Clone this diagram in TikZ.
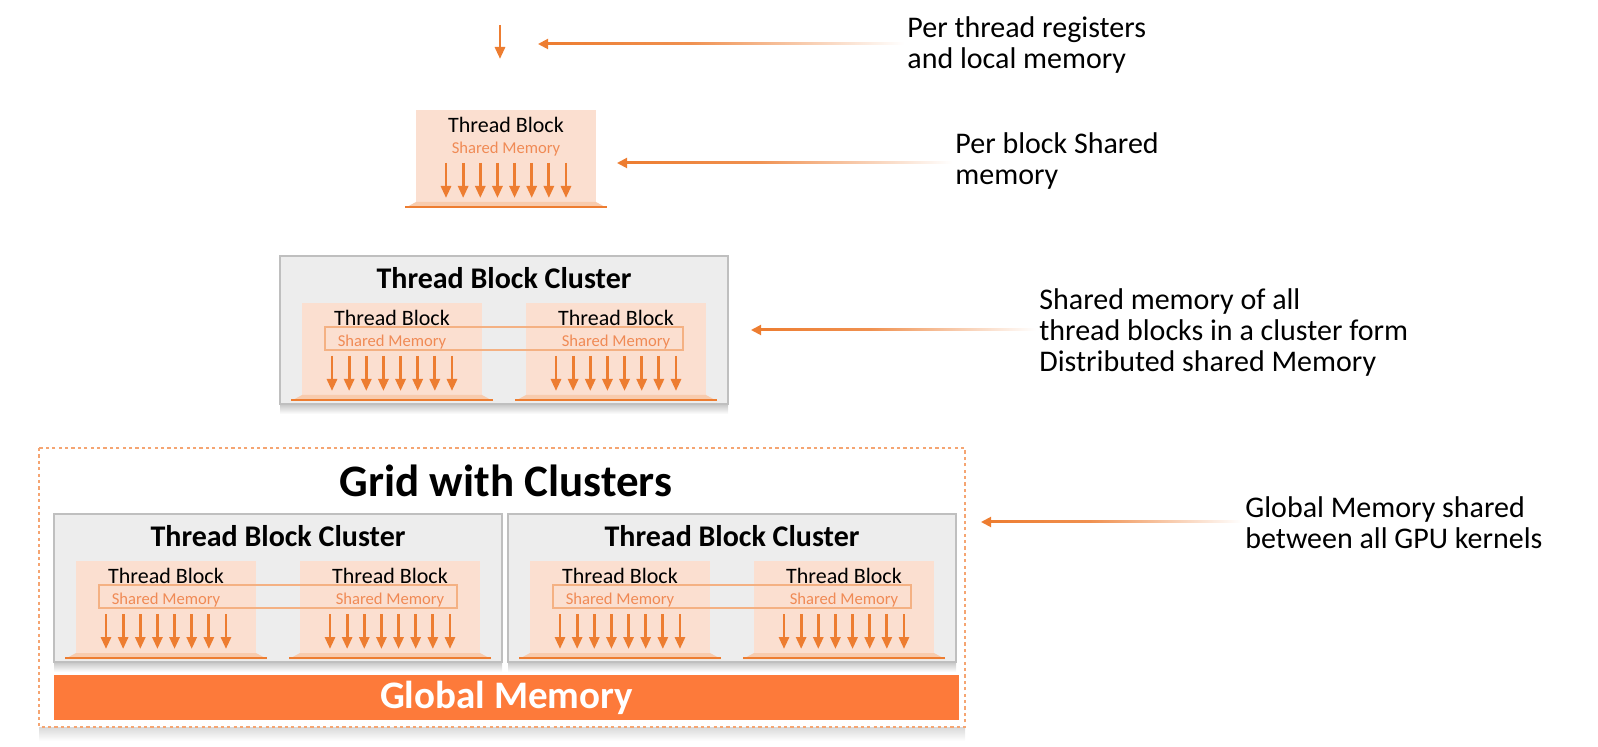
\documentclass[tikz,border=0pt]{standalone}
\usepackage{fontspec}
\setmainfont{Carlito}
\usepackage{tikz}
\usetikzlibrary{arrows.meta,calc}

\definecolor{aor}{HTML}{ED7D31}
\definecolor{smor}{HTML}{F08A55}
\definecolor{blockfill}{HTML}{FBDFD0}
\definecolor{trayfill}{HTML}{F8CBAD}
\definecolor{bandor}{HTML}{F4B183}
\definecolor{dotor}{HTML}{F5A572}
\definecolor{clfill}{HTML}{EDEDED}
\definecolor{clline}{HTML}{BFBFBF}
\definecolor{gbarfill}{HTML}{FD7A3A}

\pgfdeclarehorizontalshading{fadeor}{100bp}{color(0bp)=(aor); color(25bp)=(aor); color(45bp)=(aor!85); color(75bp)=(white); color(100bp)=(white)}

\tikzset{
  thr/.style={draw=aor, line width=1.4pt, -{Triangle[width=5pt,length=6pt]}},
  blk/.style={fill=blockfill},
  tray/.style={fill=trayfill},
  trayline/.style={draw=aor, line width=1.3pt},
  tbtext/.style={font=\fontsize{11pt}{12pt}\selectfont, inner sep=0pt},
  smtext/.style={text=smor, font=\fontsize{8.3pt}{9pt}\selectfont, inner sep=0pt},
  clbox/.style={fill=clfill, draw=clline, line width=0.6pt},
  cltitle/.style={font=\bfseries\fontsize{15pt}{16pt}\selectfont, inner sep=0pt},
  smband/.style={draw=bandor, line width=0.7pt},
  gridbox/.style={draw=dotor, line width=0.8pt, dash pattern=on 1.6pt off 1.6pt},
  gtitle/.style={font=\bfseries\fontsize{22.5pt}{24pt}\selectfont, inner sep=0pt},
  gmtext/.style={text=white, font=\bfseries\fontsize{19.5pt}{21pt}\selectfont, inner sep=0pt},
  lbl/.style={anchor=west, align=left, font=\fontsize{15pt}{15.5pt}\selectfont, inner sep=1.5pt},
  ptrhead/.style={draw=aor, line width=1pt, -{Triangle[width=5pt,length=5pt]}},
}

% one thread block: name, left x, top y
\newcommand{\tblock}[3]{%
  \fill[blk] (#2,#3) rectangle ++(180,92);
  \fill[tray] (#2,#3+92) -- ++(180,0) -- ++(11,6) -- ++(-202,0) -- cycle;
  \draw[trayline] (#2-11,#3+97) -- ++(202,0);
  \node[tbtext] (#1t) at (#2+90,#3+15) {Thread Block};
  \node[smtext] (#1s) at (#2+90,#3+39) {Shared Memory};
  \foreach \k in {0,...,7}
    \draw[thr] (#2+30+\k*17.14,#3+53) -- ++(0,35);
}

% cluster of two blocks: name, left x, top y
\newcommand{\tbcluster}[3]{%
  \shade[top color=gray!45, bottom color=white] (#2,#3+148) rectangle ++(448,10);
  \draw[clbox] (#2,#3) rectangle ++(448,148);
  \node[cltitle] (#1) at (#2+224,#3+22) {Thread Block Cluster};
  \tblock{#1a}{#2+22}{#3+47}
  \tblock{#1b}{#2+246}{#3+47}
  \draw[smband] (#2+45,#3+71) rectangle (#2+403,#3+94);
}

\begin{document}
\begin{tikzpicture}[x=0.5pt,y=-0.5pt]
  \useasboundingbox (0,0) rectangle (1598,747);
  % thread
  \coordinate (R) at (500,25);
  \draw[thr] (R) -- ++(0,34);
  % block
  \tblock{S}{416}{110}
  % cluster
  \tbcluster{C}{280}{256}
  % grid
  \shade[top color=gray!30, bottom color=white] (39,727) rectangle (965,741);
  \draw[gridbox] (39,448) rectangle (965,727);
  \node[gtitle] (G) at (506,481) {Grid with Clusters};
  \tbcluster{L}{54}{514}
  \tbcluster{M}{508}{514}
  \fill[gbarfill] (54,675) rectangle (959,720);
  \node[gmtext] (GM) at (506.5,697.5) {Global Memory};
  % labels
  \node[lbl] (P1) at (904,45) {Per thread registers\\and local memory};
  \node[lbl] (P2) at (952,161.5) {Per block Shared\\memory};
  \node[lbl] (P3) at (1036,333) {Shared memory of all\\thread blocks in a cluster form\\Distributed shared Memory};
  \node[lbl] (P4) at (1242,523) {Global Memory shared\\between all GPU kernels};
  \coordinate (T1) at (538,44);
  \coordinate (T2) at (617,163);
  \coordinate (T3) at (751,330);
  \coordinate (T4) at (981,522);
  % pointers
  \shade[shading=fadeor] ($(T1)+(8,-1)$) rectangle ($(T1 -| P1.west)+(0,1)$);
  \draw[ptrhead] ($(T1)+(10,0)$) -- (T1);
  \shade[shading=fadeor] ($(T2)+(8,-1)$) rectangle ($(T2 -| P2.west)+(0,1)$);
  \draw[ptrhead] ($(T2)+(10,0)$) -- (T2);
  \shade[shading=fadeor] ($(T3)+(8,-1)$) rectangle ($(T3 -| P3.west)+(0,1)$);
  \draw[ptrhead] ($(T3)+(10,0)$) -- (T3);
  \shade[shading=fadeor] ($(T4)+(8,-1)$) rectangle ($(T4 -| P4.west)+(0,1)$);
  \draw[ptrhead] ($(T4)+(10,0)$) -- (T4);
\end{tikzpicture}
\end{document}
